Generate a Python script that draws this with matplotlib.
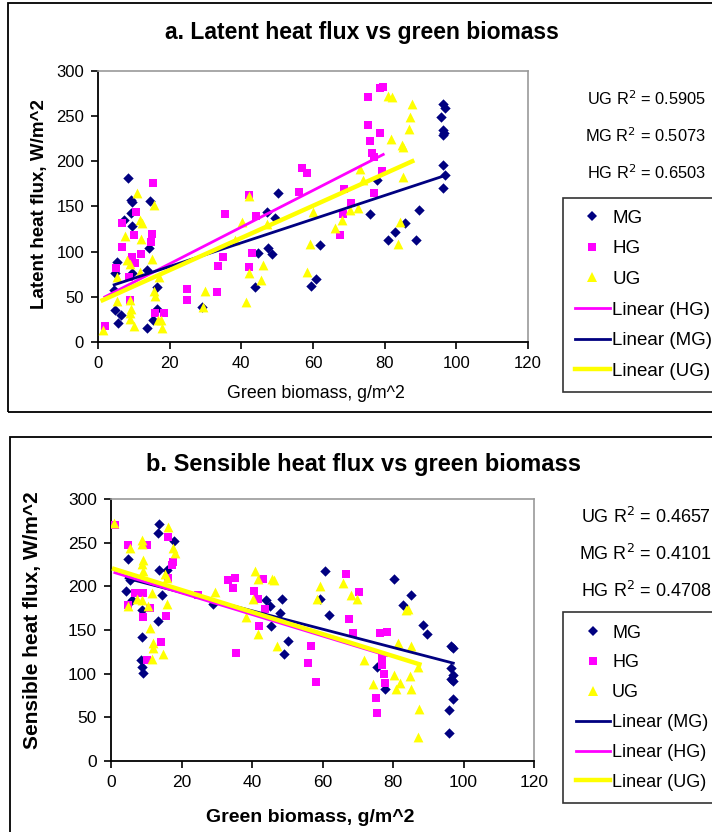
import numpy as np
import matplotlib
matplotlib.use('Agg')
import matplotlib.pyplot as plt
from matplotlib.patches import Rectangle
from matplotlib.lines import Line2D

plt.rcParams['font.family'] = ['Liberation Sans', 'DejaVu Sans']

# --- datos: a) flujo de calor latente ---
lat_mg_x = [8.5, 9.1, 9.6, 14.5, 9.2, 9.4, 7.3, 14.3, 5.2, 13.8, 4.7, 4.5, 16.4, 4.7, 6.3, 5.7,
            13.6, 15.4, 16.4, 9.4, 50.3, 47.3, 49.4, 44.7, 47.5, 48.5, 43.8, 62.0, 60.8, 59.4,
            28.9, 96.4, 96.8, 95.7, 96.4, 96.6, 96.4, 96.4, 96.8, 96.4, 75.9, 89.7, 85.7, 83.0,
            80.8, 88.7, 77.8]
lat_mg_y = [182, 157, 155, 156, 143, 128, 135, 104, 89, 80, 76, 58, 61, 35, 30, 21,
            15, 24, 37, 76, 165, 144, 137, 99, 104, 97, 61, 107, 70, 62,
            39, 264, 259, 249, 235, 231, 229, 196, 185, 171, 142, 146, 132, 122,
            113, 113, 179]
lat_hg_x = [15.4, 10.6, 6.7, 10.0, 15.1, 14.9, 6.7, 12.0, 9.4, 10.4, 5.0, 8.7, 24.7, 24.7,
            9.0, 18.3, 16.0, 1.9, 33.1, 33.6, 35.0, 35.4, 42.1, 42.9, 42.1, 44.1, 56.2, 56.8,
            58.2, 75.4, 78.7, 79.6, 75.4, 78.7, 75.9, 76.6, 77.0, 79.2, 68.7, 77.0, 70.5, 68.5,
            67.5]
lat_hg_y = [176, 144, 132, 118, 120, 111, 105, 97, 94, 87, 82, 72, 59, 47,
            46, 32, 32, 18, 55, 84, 94, 142, 163, 98, 83, 139, 166, 193,
            187, 271, 281, 282, 240, 231, 223, 209, 205, 189, 169, 165, 154, 142,
            119]
lat_ug_x = [10.9, 15.5, 11.8, 12.3, 7.6, 12.1, 15.1, 8.1, 9.0, 5.3, 11.8, 16.9, 15.5, 15.8,
            5.3, 9.0, 9.3, 9.0, 9.0, 10.0, 16.7, 17.5, 17.9, 1.3, 29.9, 29.4, 41.3, 42.2,
            40.1, 38.2, 46.1, 45.4, 42.2, 47.1, 59.2, 58.2, 60.1, 81.0, 82.0, 87.7, 87.2, 86.9,
            81.8, 84.7, 85.2, 85.0, 73.1, 74.0, 70.3, 72.6, 68.0, 66.1, 84.4, 83.8]
lat_ug_y = [165, 152, 135, 132, 117, 114, 92, 91, 86, 72, 78, 72, 56, 51,
            45, 46, 37, 32, 26, 18, 24, 24, 15, 13, 56, 39, 44, 162,
            133, 113, 85, 69, 76, 131, 108, 78, 144, 272, 271, 263, 249, 236,
            225, 218, 216, 183, 192, 179, 146, 148, 135, 126, 133, 108]
# pendiente, ordenada de las rectas de tendencia
lat_fit_hg = [2.03, 46.0]
lat_fit_mg = [1.31, 57.4]
lat_fit_ug = [1.78, 44.0]
lat_r2 = ["UG R$^2$ = 0.5905", "MG R$^2$ = 0.5073", "HG R$^2$ = 0.6503"]

# --- datos: b) flujo de calor sensible ---
sen_mg_x = [13.7, 13.4, 17.9, 4.7, 13.7, 15.8, 5.4, 4.3, 14.4, 5.9, 8.7, 13.2, 8.7, 8.4,
            8.7, 9.2, 29.0, 44.0, 48.4, 45.1, 47.9, 45.3, 50.3, 49.2, 60.7, 59.3, 61.9, 80.4,
            85.1, 82.7, 88.6, 89.7, 96.4, 97.1, 96.5, 97.1, 96.4, 97.1, 97.1, 96.0, 96.0, 75.4,
            77.7]
sen_mg_y = [271, 261, 252, 231, 219, 219, 207, 195, 190, 184, 173, 160, 142, 116,
            108, 101, 180, 184, 185, 177, 170, 155, 137, 122, 218, 185, 167, 208,
            190, 179, 156, 145, 132, 129, 106, 98, 94, 92, 71, 58, 32, 108,
            82]
sen_hg_x = [1.1, 4.9, 10.1, 16.3, 17.7, 17.2, 16.3, 6.8, 9.2, 4.9, 11.1, 9.0, 15.6, 14.2,
            10.1, 24.8, 33.3, 35.2, 34.7, 35.5, 40.6, 43.0, 41.8, 43.7, 42.1, 56.7, 56.0, 58.1,
            66.7, 70.4, 67.5, 68.6, 76.3, 78.2, 76.8, 76.8, 77.4, 77.6, 75.2, 75.5]
sen_hg_y = [270, 247, 247, 257, 228, 224, 209, 192, 192, 179, 175, 165, 166, 136,
            116, 190, 207, 210, 198, 124, 195, 208, 185, 174, 155, 132, 112, 90,
            214, 193, 163, 146, 146, 148, 119, 110, 100, 89, 72, 55]
sen_ug_x = [0.9, 16.3, 8.7, 8.7, 5.4, 17.7, 18.2, 9.2, 8.7, 9.2, 15.3, 15.8, 11.5, 7.3,
            8.7, 4.9, 10.6, 15.8, 11.1, 12.0, 12.0, 14.8, 11.5, 29.5, 40.9, 41.8, 45.6, 46.2,
            40.2, 38.2, 41.8, 47.0, 59.3, 58.4, 65.9, 68.0, 69.7, 83.7, 84.3, 81.5, 85.0, 87.2,
            71.9, 74.4, 80.4, 82.0, 80.9, 84.8, 85.1, 87.5, 87.2]
sen_ug_y = [272, 268, 253, 249, 244, 244, 238, 230, 226, 217, 214, 209, 192, 186,
            184, 177, 177, 180, 152, 135, 129, 123, 117, 194, 218, 208, 208, 207,
            185, 165, 145, 132, 200, 185, 204, 190, 186, 173, 174, 135, 132, 108,
            116, 88, 98, 89, 82, 97, 82, 60, 27]
sen_fit_mg = [-1.05, 214.0]
sen_fit_hg = [-1.23, 217.0]
sen_fit_ug = [-1.26, 221.0]
sen_r2 = ["UG R$^2$ = 0.4657", "MG R$^2$ = 0.4101", "HG R$^2$ = 0.4708"]

x_ticks = [0, 20, 40, 60, 80, 100, 120]
y_ticks = [0, 50, 100, 150, 200, 250, 300]

C_MG, C_HG, C_UG = "#000080", "#FF00FF", "#FFFF00"
W, H = 712, 832


def fx(px):
    return px / W


def fy(py):
    return 1 - py / H


def linea(ax, xs, fit, color, lw):
    xs = np.array([min(xs), max(xs)])
    ax.plot(xs, fit[0] * xs + fit[1], color=color, lw=lw, zorder=5)


def panel(ax, datos, ajustes, orden, fs):
    (mgx, mgy), (hgx, hgy), (ugx, ugy) = datos
    ax.scatter(mgx, mgy, marker="D", s=28, color=C_MG, lw=0, zorder=2)
    ax.scatter(hgx, hgy, marker="s", s=36, color=C_HG, lw=0, zorder=3)
    ax.scatter(ugx, ugy, marker="^", s=50, color=C_UG, lw=0, zorder=4)
    series = {"MG": (mgx, C_MG, 2.0), "HG": (hgx, C_HG, 2.0), "UG": (ugx, C_UG, 3.2)}
    for nombre in orden:
        xs, col, lw = series[nombre]
        linea(ax, xs, ajustes[nombre], col, lw)
    ax.set_xlim(0, 120)
    ax.set_ylim(0, 300)
    ax.set_xticks(x_ticks)
    ax.set_yticks(y_ticks)
    ax.tick_params(direction="out", length=5, width=1.2, labelsize=fs, pad=5)
    for lado in ["top", "right"]:
        ax.spines[lado].set_color("#9a9a9a")
        ax.spines[lado].set_linewidth(1.2)
    for lado in ["left", "bottom"]:
        ax.spines[lado].set_color("black")
        ax.spines[lado].set_linewidth(1.3)


def leyenda(fig, orden, x0, y0, fs, esp, pad):
    cols = {"MG": (C_MG, 2.0), "HG": (C_HG, 2.0), "UG": (C_UG, 3.2)}
    h = [Line2D([], [], ls="", marker="D", ms=5, color=C_MG, mew=0),
         Line2D([], [], ls="", marker="s", ms=6, color=C_HG, mew=0),
         Line2D([], [], ls="", marker="^", ms=7, color=C_UG, mew=0)]
    labs = ["MG", "HG", "UG"]
    for nombre in orden:
        c, lw = cols[nombre]
        h.append(Line2D([], [], color=c, lw=lw))
        labs.append("Linear (%s)" % nombre)
    leg = fig.legend(h, labs, loc="upper left", bbox_to_anchor=(fx(x0), fy(y0)),
                     bbox_transform=fig.transFigure, fontsize=fs, frameon=True,
                     fancybox=False, edgecolor="black", handlelength=1.9,
                     handletextpad=0.12, labelspacing=esp, borderpad=pad,
                     borderaxespad=0)
    leg.get_frame().set_linewidth(1.2)


fig = plt.figure(figsize=(W / 100, H / 100), dpi=100)

# marcos de cada panel
fig.add_artist(Rectangle((fx(8), fy(412)), 1.2, fy(3) - fy(412), transform=fig.transFigure,
                         fill=False, edgecolor="black", lw=1.3))
fig.add_artist(Rectangle((fx(10), fy(900)), 1.2, fy(437) - fy(900), transform=fig.transFigure,
                         fill=False, edgecolor="black", lw=1.3))

# --- a) ---
ax1 = fig.add_axes([fx(98), fy(342), fx(528) - fx(98), fy(71) - fy(342)])
panel(ax1, [(lat_mg_x, lat_mg_y), (lat_hg_x, lat_hg_y), (lat_ug_x, lat_ug_y)],
      {"HG": lat_fit_hg, "MG": lat_fit_mg, "UG": lat_fit_ug}, ["HG", "MG", "UG"], 12)
fig.text(fx(362), fy(33), "a. Latent heat flux vs green biomass", ha="center", va="center",
         fontsize=16.5, fontweight="bold")
fig.text(fx(316), fy(394), "Green biomass, g/m^2", ha="center", va="center", fontsize=12.8)
fig.text(fx(40), fy(204), "Latent heat flux, W/m^2", ha="center", va="center",
         fontsize=13.5, fontweight="bold", rotation=90)
for i, t in enumerate(lat_r2):
    fig.text(fx(706), fy(99 + 37 * i), t, ha="right", va="center", fontsize=11.8)
leyenda(fig, ["HG", "MG", "UG"], 563, 198, 13.5, 0.72, 0.62)

# --- b) ---
ax2 = fig.add_axes([fx(111), fy(761), fx(534) - fx(111), fy(499) - fy(761)])
panel(ax2, [(sen_mg_x, sen_mg_y), (sen_hg_x, sen_hg_y), (sen_ug_x, sen_ug_y)],
      {"MG": sen_fit_mg, "HG": sen_fit_hg, "UG": sen_fit_ug}, ["MG", "HG", "UG"], 12.5)
fig.text(fx(364), fy(464), "b. Sensible heat flux vs green biomass", ha="center", va="center",
         fontsize=17, fontweight="bold")
fig.text(fx(310), fy(817), "Green biomass, g/m^2", ha="center", va="center",
         fontsize=14, fontweight="bold")
fig.text(fx(33), fy(620), "Sensible heat flux, W/m^2", ha="center", va="center",
         fontsize=15, fontweight="bold", rotation=90)
for i, t in enumerate(sen_r2):
    fig.text(fx(711), fy(517 + 37 * i), t, ha="right", va="center", fontsize=13)
leyenda(fig, ["MG", "HG", "UG"], 563, 612, 13, 0.71, 0.7)

plt.savefig("out.png", dpi=100)
plt.close()
